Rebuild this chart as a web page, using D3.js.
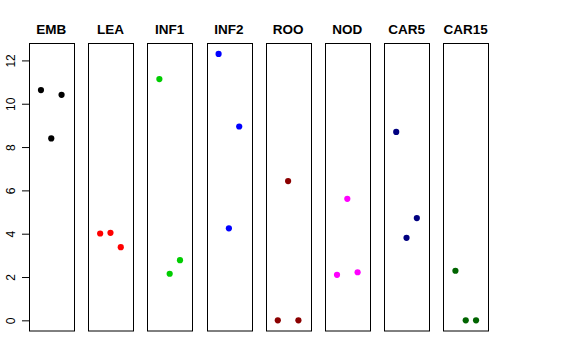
<!DOCTYPE html>
<html><head><meta charset="utf-8">
<script src="https://cdn.jsdelivr.net/npm/d3@7"></script>
<style>body{margin:0;background:#fff}svg{display:block}</style>
</head><body>
<script>
const categories = ["EMB","LEA","INF1","INF2","ROO","NOD","CAR5","CAR15"];
const colors = ["#000000","#FF0000","#00CD00","#0000FF","#8B0000","#FF00FF","#000080","#006400"];
const replicate = [1,2,3];
const EMB = [10.63, 8.40, 10.41];
const LEA = [4.01, 4.04, 3.38];
const INF1 = [11.14, 2.15, 2.78];
const INF2 = [12.30, 4.25, 8.95];
const ROO = [0, 6.43, 0];
const NOD = [2.10, 5.61, 2.22];
const CAR5 = [8.70, 3.81, 4.72];
const CAR15 = [2.29, 0, 0];
const values = [EMB, LEA, INF1, INF2, ROO, NOD, CAR5, CAR15];
const yTicks = [0,2,4,6,8,10,12];

const W = 576, H = 360;
const svg = d3.select("body").append("svg").attr("width", W).attr("height", H);

const y = d3.scaleLinear().domain([-0.492, 12.79]).range([331, 43.3]);
const band = d3.scaleBand().domain(categories).range([29, 488]).paddingInner(0.248).paddingOuter(0);

// y axis
const ax = svg.append("g").attr("transform", "translate(29,0)")
  .call(d3.axisLeft(y).tickValues(yTicks).tickSize(7).tickSizeOuter(0).tickFormat(d3.format("d")));
ax.select(".domain").remove();
ax.selectAll(".tick line").attr("stroke", "#000");
ax.selectAll(".tick text")
  .attr("font-family", "Liberation Sans, Arial, sans-serif")
  .attr("font-size", 12).attr("fill", "#000")
  .attr("text-anchor", "middle")
  .attr("x", null).attr("dy", null)
  .attr("transform", "translate(-14,0) rotate(-90)");

categories.forEach((c, i) => {
  const x0 = band(c), bw = band.bandwidth();
  const x = d3.scaleLinear().domain([-0.16, 4.16]).range([x0, x0 + bw]);
  const g = svg.append("g");
  g.append("rect").attr("x", Math.round(x0) + 0.5).attr("y", 43.5)
    .attr("width", Math.round(bw)).attr("height", 287.5)
    .attr("fill", "none").attr("stroke", "#000").attr("stroke-width", 1);
  g.append("text").attr("x", x0 + bw / 2).attr("y", 34)
    .attr("text-anchor", "middle")
    .attr("font-family", "Liberation Sans, Arial, sans-serif")
    .attr("font-weight", "bold").attr("font-size", 13.5).text(c);
  g.selectAll("circle").data(values[i]).join("circle")
    .attr("cx", (d, j) => x(replicate[j]))
    .attr("cy", d => y(d))
    .attr("r", 3.1)
    .attr("fill", colors[i]);
});
</script>
</body></html>
